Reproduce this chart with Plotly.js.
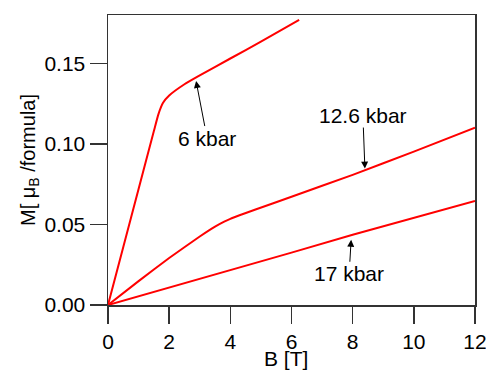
<!DOCTYPE html>
<html>
<head>
<meta charset="utf-8">
<script src="https://cdn.plot.ly/plotly-3.0.1.min.js"></script>
<style>html,body{margin:0;padding:0;background:#fff;}#chart{width:486px;height:371px;}</style>
</head>
<body>
<div id="chart"></div>
<script>
// Field B [T] and magnetization M [μB/formula] for each pressure
var b6 = [0, 0.5, 1.0, 1.5, 1.65, 1.8, 2.0, 2.5, 3.0, 4.0, 5.0, 6.25];
var m6 = [0, 0.036, 0.072, 0.108, 0.1185, 0.1255, 0.130, 0.137, 0.1425, 0.153, 0.1635, 0.177];

var b126 = [0, 1, 2, 3, 3.5, 3.8, 4.0, 4.3, 4.8, 6, 8, 10, 12];
var m126 = [0, 0.0148, 0.0292, 0.0425, 0.0486, 0.0517, 0.0535, 0.0557, 0.0591, 0.0672, 0.0808, 0.0952, 0.110];

var b17 = [0, 2, 4, 6, 8, 10, 12];
var m17 = [0, 0.0107, 0.0218, 0.0325, 0.0436, 0.0542, 0.0646];

// Curve labels: arrow tip on the curve, text offset in pixels
var labels = ["6 kbar", "12.6 kbar", "17 kbar"];
var arrowX = [2.88, 8.40, 7.95];
var arrowY = [0.139, 0.0847, 0.0405];
var textAx = [11, -2, -2];
var textAy = [57, -53, 34];

var traces = [
  {x: b6, y: m6, mode: 'lines', line: {color: '#ff0000', width: 2, shape: 'spline', smoothing: 0.5}, hoverinfo: 'skip'},
  {x: b126, y: m126, mode: 'lines', line: {color: '#ff0000', width: 2, shape: 'spline', smoothing: 0.3}, hoverinfo: 'skip'},
  {x: b17, y: m17, mode: 'lines', line: {color: '#ff0000', width: 2}, hoverinfo: 'skip'}
];

var ann = [];
for (var i = 0; i < labels.length; i++) {
  ann.push({x: arrowX[i], y: arrowY[i], xref: 'x', yref: 'y', text: labels[i], showarrow: true,
            ax: textAx[i], ay: textAy[i], arrowhead: 2, arrowsize: 1.4, arrowwidth: 1,
            arrowcolor: '#000', standoff: 0, borderpad: 0,
            font: {size: 21, color: '#000'}});
}
// x-axis title placed at the bottom edge below the tick labels
ann.push({xref: 'paper', yref: 'paper', x: 0.485, y: -0.2276, xanchor: 'center', yanchor: 'bottom',
          text: 'B [T]', showarrow: false, font: {size: 21, color: '#000'}, borderpad: 0});

var axisCommon = {
  showgrid: false, zeroline: false, showline: true, mirror: true,
  linecolor: '#333', linewidth: 1.5,
  ticks: 'outside', ticklen: 17, tickwidth: 1.5, tickcolor: '#333',
  tickfont: {size: 21, color: '#000'}, ticklabeloverflow: 'allow'
};

var layout = {
  width: 486, height: 371,
  margin: {l: 108, r: 11, t: 15, b: 66},
  paper_bgcolor: '#fff', plot_bgcolor: '#fff',
  showlegend: false,
  font: {family: '"Liberation Sans", Arial, Helvetica, sans-serif', color: '#000'},
  xaxis: Object.assign({}, axisCommon, {
    range: [0, 12], dtick: 2, tick0: 0
  }),
  yaxis: Object.assign({}, axisCommon, {
    range: [0, 0.18], dtick: 0.05, tick0: 0, tickformat: '.2f',
    title: {text: 'M[ μ<sub>B</sub> /formula]', font: {size: 20}}
  }),
  annotations: ann
};

Plotly.newPlot('chart', traces, layout, {displayModeBar: false, staticPlot: true});
</script>
</body>
</html>
